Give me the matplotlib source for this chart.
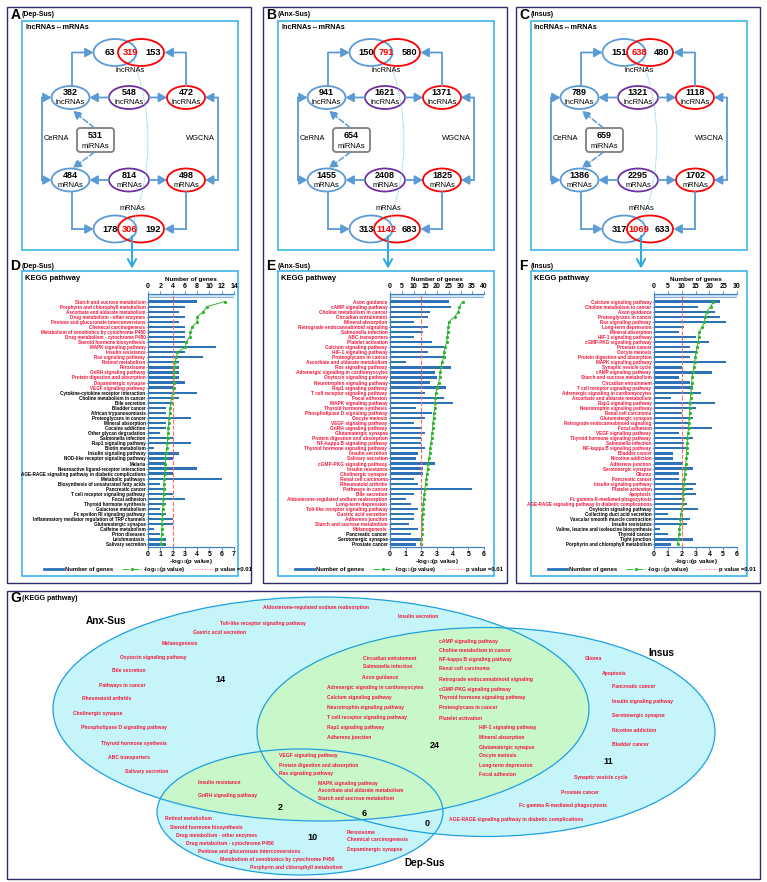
import matplotlib
matplotlib.use('Agg')
import matplotlib.pyplot as plt
from matplotlib.patches import Ellipse, Rectangle, FancyBboxPatch, FancyArrowPatch, PathPatch
from matplotlib.path import Path
from matplotlib.lines import Line2D
import numpy as np

plt.rcParams['font.family'] = ['Liberation Sans', 'DejaVu Sans']

# ---------------- DATA ----------------
panel_names = ['Dep-Sus', 'Anx-Sus', 'Insus']
top_lnc = [(63, 319, 153), (150, 791, 580), (151, 638, 480)]
lnc_row = [(382, 548, 472), (941, 1621, 1371), (789, 1321, 1118)]
mirnas = [531, 654, 659]
mrna_row = [(484, 814, 498), (1455, 2408, 1825), (1386, 2295, 1702)]
bottom_mrna = [(178, 306, 192), (313, 1142, 683), (317, 1069, 633)]

dep_path = ['Starch and sucrose metabolism', 'Porphyrin and chlorophyll metabolism',
            'Ascorbate and aldarate metabolism', 'Drug metabolism - other enzymes',
            'Pentose and glucuronate interconversions', 'Chemical carcinogenesis',
            'Metabolism of xenobiotics by cytochrome P450', 'Drug metabolism - cytochrome P450',
            'Steroid hormone biosynthesis', 'MAPK signaling pathway', 'Insulin resistance',
            'Ras signaling pathway', 'Retinol metabolism', 'Peroxisome', 'GnRH signaling pathway',
            'Protein digestion and absorption', 'Dopaminergic synapse', 'VEGF signaling pathway',
            'Cytokine-cytokine receptor interaction', 'Choline metabolism in cancer', 'Bile secretion',
            'Bladder cancer', 'African trypanosomiasis', 'Proteoglycans in cancer', 'Mineral absorption',
            'Cocaine addiction', 'Other glycan degradation', 'Salmonella infection',
            'Rap1 signaling pathway', 'Biotin metabolism', 'Insulin signaling pathway',
            'NOD-like receptor signaling pathway', 'Malaria', 'Neuroactive ligand-receptor interaction',
            'AGE-RAGE signaling pathway in diabetic complications', 'Metabolic pathways',
            'Biosynthesis of unsaturated fatty acids', 'Pancreatic cancer',
            'T cell receptor signaling pathway', 'Focal adhesion', 'Thyroid hormone synthesis',
            'Galactose metabolism', 'Fc epsilon RI signaling pathway',
            'Inflammatory mediator regulation of TRP channels', 'Glutamatergic synapse',
            'Caffeine metabolism', 'Prion diseases', 'Leishmaniasis', 'Salivary secretion']
dep_genes = [8, 6, 5, 6, 5, 6, 6, 6, 6, 11, 6, 9, 5, 5, 5, 5, 6, 4, 8, 5, 4, 3, 3, 7, 3,
             3, 2, 4, 7, 1, 5, 4, 3, 8, 4, 12, 2, 3, 4, 6, 3, 2, 3, 4, 4, 1, 2, 3, 3]
dep_logp = [6.23, 4.8, 4.5, 4.0, 4.0, 3.6, 3.45, 3.4, 3.1, 3.05, 2.4, 2.3, 2.2, 2.17, 2.14,
            2.12, 2.1, 2.08, 2.03, 1.93, 1.85, 1.8, 1.77, 1.7, 1.68, 1.65, 1.62, 1.6, 1.57,
            1.55, 1.45, 1.42, 1.4, 1.38, 1.35, 1.33, 1.3, 1.3, 1.28, 1.26, 1.24, 1.2, 1.18,
            1.16, 1.14, 1.12, 1.1, 1.08, 1.05]

anx_path = ['Axon guidance', 'cAMP signaling pathway', 'Choline metabolism in cancer',
            'Circadian entrainment', 'Mineral absorption', 'Retrograde endocannabinoid signaling',
            'Salmonella infection', 'ABC transporters', 'Platelet activation',
            'Calcium signaling pathway', 'HIF-1 signaling pathway', 'Proteoglycans in cancer',
            'Ascorbate and aldarate metabolism', 'Ras signaling pathway',
            'Adrenergic signaling in cardiomyocytes', 'Oxytocin signaling pathway',
            'Neurotrophin signaling pathway', 'Rap1 signaling pathway',
            'T cell receptor signaling pathway', 'Focal adhesion', 'MAPK signaling pathway',
            'Thyroid hormone synthesis', 'Phospholipase D signaling pathway', 'Oocyte meiosis',
            'VEGF signaling pathway', 'GnRH signaling pathway', 'Glutamatergic synapse',
            'Protein digestion and absorption', 'NF-kappa B signaling pathway',
            'Thyroid hormone signaling pathway', 'Insulin secretion', 'Salivary secretion',
            'cGMP-PKG signaling pathway', 'Insulin resistance', 'Cholinergic synapse',
            'Renal cell carcinoma', 'Rheumatoid arthritis', 'Pathways in cancer', 'Bile secretion',
            'Aldosterone-regulated sodium reabsorption', 'Long-term depression',
            'Toll-like receptor signaling pathway', 'Gastric acid secretion', 'Adherens junction',
            'Starch and sucrose metabolism', 'Melanogenesis', 'Pancreatic cancer',
            'Serotonergic synapse', 'Prostate cancer']
anx_genes = [25, 26, 17, 16, 10, 16, 14, 10, 18, 23, 16, 24, 7, 26, 19, 20, 17, 24, 15, 23,
             27, 11, 18, 15, 10, 13, 15, 13, 13, 15, 12, 11, 19, 14, 14, 10, 12, 35, 10, 7,
             9, 12, 10, 10, 8, 12, 9, 14, 11]
anx_logp = [4.65, 4.43, 4.37, 4.13, 3.75, 3.72, 3.68, 3.65, 3.62, 3.51, 3.47, 3.43, 3.32,
            3.25, 3.2, 3.17, 3.1, 3.0, 2.93, 2.9, 2.88, 2.86, 2.82, 2.78, 2.74, 2.72, 2.68,
            2.65, 2.62, 2.57, 2.53, 2.48, 2.44, 2.4, 2.36, 2.32, 2.27, 2.23, 2.2, 2.15, 2.12,
            2.1, 2.08, 2.06, 2.04, 2.03, 2.02, 2.0, 1.95]

ins_path = ['Calcium signaling pathway', 'Choline metabolism in cancer', 'Axon guidance',
            'Proteoglycans in cancer', 'Ras signaling pathway', 'Long-term depression',
            'Mineral absorption', 'HIF-1 signaling pathway', 'cGMP-PKG signaling pathway',
            'Prostate cancer', 'Oocyte meiosis', 'Protein digestion and absorption',
            'MAPK signaling pathway', 'Synaptic vesicle cycle', 'cAMP signaling pathway',
            'Starch and sucrose metabolism', 'Circadian entrainment',
            'T cell receptor signaling pathway', 'Adrenergic signaling in cardiomyocytes',
            'Ascorbate and aldarate metabolism', 'Rap1 signaling pathway',
            'Neurotrophin signaling pathway', 'Renal cell carcinoma', 'Glutamatergic synapse',
            'Retrograde endocannabinoid signaling', 'Focal adhesion', 'VEGF signaling pathway',
            'Thyroid hormone signaling pathway', 'Salmonella infection',
            'NF-kappa B signaling pathway', 'Bladder cancer', 'Nicotine addiction',
            'Adherens junction', 'Serotonergic synapse', 'Glioma', 'Pancreatic cancer',
            'Insulin signaling pathway', 'Platelet activation', 'Apoptosis',
            'Fc gamma R-mediated phagocytosis',
            'AGE-RAGE signaling pathway in diabetic complications', 'Oxytocin signaling pathway',
            'Collecting duct acid secretion', 'Vascular smooth muscle contraction',
            'Insulin resistance', 'Valine, leucine and isoleucine biosynthesis', 'Thyroid cancer',
            'Tight junction', 'Porphyrin and chlorophyll metabolism']
ins_genes = [24, 16, 22, 24, 26, 11, 9, 15, 20, 13, 15, 13, 26, 10, 21, 9, 13, 14, 17, 6,
             22, 15, 10, 14, 13, 21, 9, 14, 11, 12, 7, 7, 10, 14, 9, 9, 15, 14, 15, 11, 12,
             16, 5, 13, 12, 2, 5, 14, 6]
ins_logp = [4.3, 4.1, 3.8, 3.7, 3.63, 3.5, 3.27, 3.22, 3.2, 3.12, 3.05, 2.98, 2.93, 2.88,
            2.81, 2.76, 2.73, 2.71, 2.66, 2.64, 2.61, 2.6, 2.57, 2.55, 2.52, 2.5, 2.45, 2.42,
            2.4, 2.37, 2.35, 2.33, 2.3, 2.25, 2.23, 2.2, 2.18, 2.15, 2.13, 2.1, 2.08, 2.0,
            1.94, 1.91, 1.89, 1.84, 1.82, 1.77, 1.7]

# Venn regions (panel G)
venn_anx_only = ['Aldosterone-regulated sodium reabsorption', 'Insulin secretion',
                 'Toll-like receptor signaling pathway', 'Gastric acid secretion', 'Melanogenesis',
                 'Oxytocin signaling pathway', 'Bile secretion', 'Pathways in cancer',
                 'Rheumatoid arthritis', 'Cholinergic synapse', 'Phospholipase D signaling pathway',
                 'Thyroid hormone synthesis', 'ABC transporters', 'Salivary secretion']
venn_anx_ins = ['Circadian entrainment', 'Salmonella infection', 'Axon guidance',
                'Adrenergic signaling in cardiomyocytes', 'Calcium signaling pathway',
                'Neurotrophin signaling pathway', 'T cell receptor signaling pathway',
                'Rap1 signaling pathway', 'Adherens junction', 'cAMP signaling pathway',
                'Choline metabolism in cancer', 'NF-kappa B signaling pathway', 'Renal cell carcinoma',
                'Retrograde endocannabinoid signaling', 'cGMP-PKG signaling pathway',
                'Thyroid hormone signaling pathway', 'Proteoglycans in cancer', 'Platelet activation',
                'HIF-1 signaling pathway', 'Mineral absorption', 'Glutamatergic synapse',
                'Oocyte meiosis', 'Long-term depression', 'Focal adhesion']
venn_all = ['VEGF signaling pathway', 'Protein digestion and absorption', 'Ras signaling pathway',
            'MAPK signaling pathway', 'Ascorbate and aldarate metabolism',
            'Starch and sucrose metabolism']
venn_anx_dep = ['Insulin resistance', 'GnRH signaling pathway']
venn_dep_only = ['Retinol metabolism', 'Steroid hormone biosynthesis',
                 'Drug metabolism - other enzymes', 'Drug metabolism - cytochrome P450',
                 'Pentose and glucuronate interconversions',
                 'Metabolism of xenobiotics by cytochrome P450', 'Porphyrin and chlorophyll metabolism',
                 'Peroxisome', 'Chemical carcinogenesis', 'Dopaminergic synapse']
venn_ins_only = ['Glioma', 'Apoptosis', 'Pancreatic cancer', 'Insulin signaling pathway',
                 'Serotonergic synapse', 'Nicotine addiction', 'Bladder cancer',
                 'Synaptic vesicle cycle', 'Prostate cancer', 'Fc gamma R-mediated phagocytosis',
                 'AGE-RAGE signaling pathway in diabetic complications']
venn_dep_ins = []

# ---------------- LAYOUT ----------------
pos_anx_only = [(263, 608), (398, 616), (220, 623), (193, 633), (162, 644), (120, 657),
                (112, 671), (99, 685), (82, 699), (73, 714), (81, 728), (101, 744), (108, 758),
                (125, 771)]
pos_anx_ins = [(363, 658), (363, 667), (362, 678), (327, 688), (327, 697), (327, 708),
               (327, 718), (327, 728), (327, 738), (439, 642), (439, 651), (439, 660),
               (439, 669), (439, 679), (439, 689), (439, 698), (439, 708), (439, 718),
               (479, 728), (479, 738), (479, 747), (479, 756), (479, 765), (479, 774)]
pos_all = [(279, 756), (279, 765), (279, 774), (318, 783), (318, 791), (318, 799)]
pos_anx_dep = [(198, 783), (198, 795)]
pos_dep_only = [(165, 818), (170, 827), (176, 835), (186, 843), (198, 851), (220, 859),
                (250, 867), (347, 832), (347, 840), (347, 849)]
pos_ins_only = [(585, 659), (602, 673), (612, 686), (612, 702), (612, 716), (612, 731),
                (612, 745), (574, 777), (561, 792), (519, 805), (449, 819)]

W, H = 767, 882
fig = plt.figure(figsize=(W / 100, H / 100), dpi=100)
cv = fig.add_axes([0, 0, 1, 1])
cv.set_xlim(0, W)
cv.set_ylim(H, 0)
cv.axis('off')

NAVY = '#2b2d6e'
CYB = '#3cb4e6'
LB = '#5b9bd5'
RED = '#ff0000'
PUR = '#7030a0'
TRED = '#f0183c'


def T(x, y, s, size=5, weight='normal', color='black', ha='center', va='center', **kw):
    cv.text(x, y, s, fontsize=size, fontweight=weight, color=color, ha=ha, va=va, **kw)


def rect(x0, y0, x1, y1, ec, lw):
    cv.add_patch(Rectangle((x0, y0), x1 - x0, y1 - y0, fc='none', ec=ec, lw=lw))


def arr(p0, p1, color=LB, lw=1.3, ls='-'):
    cv.add_patch(FancyArrowPatch(p0, p1, arrowstyle='-|>,head_length=0.8,head_width=0.45',
                                 mutation_scale=6, color=color, lw=lw, linestyle=ls,
                                 shrinkA=0, shrinkB=0))


def ell(cx, cy, w, h, ec, lw=1.3):
    cv.add_patch(Ellipse((cx, cy), w, h, fc='none', ec=ec, lw=lw))


# ---------------- outer frames ----------------
offsets = [0, 256, 509]
for ox in offsets:
    rect(ox + 7, 7, ox + 251, 583, NAVY, 1.0)
    rect(ox + 22, 21, ox + 238, 250, CYB, 1.2)
    rect(ox + 22, 271, ox + 238, 576, CYB, 1.2)
rect(7, 591, 760, 879, NAVY, 1.0)

letters_top = ['A', 'B', 'C']
letters_bot = ['D', 'E', 'F']

for i, ox in enumerate(offsets):
    T(ox + 10.5, 15, letters_top[i], size=10, weight='bold', ha='left')
    T(ox + 22, 15, '(' + panel_names[i] + ')', size=5, weight='bold', ha='left')
    T(ox + 10.5, 266, letters_bot[i], size=10, weight='bold', ha='left')
    T(ox + 22, 266, '(' + panel_names[i] + ')', size=5, weight='bold', ha='left')
    T(ox + 25, 27.5, 'lncRNAs\u2194mRNAs', size=5.2, weight='bold', ha='left')
    T(ox + 25, 279, 'KEGG pathway', size=5.5, weight='bold', ha='left')

    # ---- network ----
    t = top_lnc[i]
    ell(ox + 115, 52.5, 43, 27, LB)
    ell(ox + 141, 52.5, 46, 27, RED)
    T(ox + 110, 52.5, str(t[0]), size=6.7, weight='bold')
    T(ox + 130, 52.5, str(t[1]), size=6.7, weight='bold', color=RED)
    T(ox + 153, 52.5, str(t[2]), size=6.7, weight='bold')
    T(ox + 130, 71, 'lncRNAs', size=5.4)

    for yy, vals, lab in [(97.5, lnc_row[i], 'lncRNAs'), (180, mrna_row[i], 'mRNAs')]:
        for cx, col, v, w in zip([70.5, 129, 186], [LB, PUR, RED], vals, [38, 40, 38]):
            ell(ox + cx, yy, w, 23, col)
            T(ox + cx, yy - 5, str(v), size=6.5, weight='bold')
            T(ox + cx, yy + 5.5, lab, size=5.4)
        arr((ox + 109, yy), (ox + 89.5, yy))
        arr((ox + 149, yy), (ox + 167, yy))
        arr((ox + 42, yy), (ox + 51.5, yy))
        arr((ox + 218, yy), (ox + 205, yy))
    cv.plot([ox + 42, ox + 42], [97.5, 180], color=LB, lw=1.3)
    cv.plot([ox + 218, ox + 218], [97.5, 180], color=LB, lw=1.3)
    T(ox + 56, 139, 'CeRNA', size=5.4)
    T(ox + 200, 139, 'WGCNA', size=5.4)

    # elbows
    cv.plot([ox + 72, ox + 72], [86, 52.5], color=LB, lw=1.3)
    arr((ox + 72, 52.5), (ox + 93.5, 52.5))
    cv.plot([ox + 186, ox + 186], [86, 52.5], color=LB, lw=1.3)
    arr((ox + 186, 52.5), (ox + 164.5, 52.5))
    cv.plot([ox + 72, ox + 72], [191.5, 229], color=LB, lw=1.3)
    arr((ox + 72, 229), (ox + 93.5, 229))
    cv.plot([ox + 186, ox + 186], [191.5, 229], color=LB, lw=1.3)
    arr((ox + 186, 229), (ox + 164.5, 229))

    # miRNA box
    cv.add_patch(FancyBboxPatch((ox + 77, 128), 37, 24,
                                boxstyle='round,pad=0,rounding_size=3',
                                fc='white', ec='#7f7f7f', lw=1.3))
    T(ox + 95.5, 135, str(mirnas[i]), size=6.5, weight='bold')
    T(ox + 95.5, 146, 'miRNAs', size=5.4)
    arr((ox + 94, 127.5), (ox + 73, 111), ls='--', lw=1.1)
    arr((ox + 94, 152.5), (ox + 73, 168), ls='--', lw=1.1)

    # bottom venn
    b = bottom_mrna[i]
    T(ox + 132, 208, 'mRNAs', size=5.4)
    ell(ox + 115, 229, 43, 27, LB)
    ell(ox + 141, 229, 46, 27, RED)
    T(ox + 110, 229, str(b[0]), size=6.7, weight='bold')
    T(ox + 130, 229, str(b[1]), size=6.7, weight='bold', color=RED)
    T(ox + 153, 229, str(b[2]), size=6.7, weight='bold')

    # dotted link
    pth = Path([(ox + 133, 58), (ox + 163, 141), (ox + 133, 224)],
               [Path.MOVETO, Path.CURVE3, Path.CURVE3])
    cv.add_patch(PathPatch(pth, fc='none', ec='#7cc6f0', lw=0.7, ls=(0, (1.2, 1.0))))
    # down arrow to KEGG panel
    cv.add_patch(FancyArrowPatch((ox + 132, 236), (ox + 132, 268.5),
                                 arrowstyle='->,head_length=0.9,head_width=0.5',
                                 mutation_scale=6, color='#2aa9e3', lw=1.4,
                                 shrinkA=0, shrinkB=0))

# ---------------- KEGG charts ----------------
BAR = '#2e72b8'
SP = '#3f7fc4'
GRN = '#2fb52f'
redsets = [set(venn_dep_only + venn_anx_dep + venn_all + venn_dep_ins),
           set(venn_anx_only + venn_anx_ins + venn_all + venn_anx_dep),
           set(venn_ins_only + venn_anx_ins + venn_all + venn_dep_ins)]
charts = [
    (dep_path, dep_genes, dep_logp, 14, 2, 7, 148, 234, 148, 3.3),
    (anx_path, anx_genes, anx_logp, 40, 5, 6, 390, 484, 399, 3.45),
    (ins_path, ins_genes, ins_logp, 30, 5, 6, 654, 737, 652, 3.3),
]
for k, (names, genes, logp, gmax, gstep, pmax, x0, x1, lcx, fs) in enumerate(charts):
    y0, y1 = 294, 547
    ax = fig.add_axes([x0 / W, 1 - y1 / H, (x1 - x0) / W, (y1 - y0) / H])
    ax.patch.set_alpha(0)
    ax2 = ax.twiny()
    yy = np.arange(len(names))

    # top axis: number of genes (bars)
    ax.axhspan(-1.5, -0.85, fc='#d3e6f7', ec=SP, lw=0.4)
    ax.barh(yy, genes, height=0.45, color=BAR)
    ax.set_xlim(0, gmax)
    ax.xaxis.tick_top()
    ax.xaxis.set_label_position('top')
    ax.set_xticks(np.arange(0, gmax + 1, gstep))
    ax.set_yticks(yy)
    ax.set_yticklabels(names, fontsize=fs, fontweight='bold')
    for lab, n in zip(ax.get_yticklabels(), names):
        lab.set_color(TRED if n in redsets[k] else 'black')
    for lab in ax.get_xticklabels():
        lab.set_fontweight('bold')
    ax.set_xlabel('Number of genes', fontsize=4.6, fontweight='bold', labelpad=1.5)
    ax.tick_params(axis='x', which='both', top=True, bottom=False, labeltop=True,
                   labelbottom=False, labelsize=5, length=2, width=0.6, pad=0.8, color=SP)
    ax.tick_params(axis='y', length=1.2, width=0.4, pad=0.6, color=SP)

    # bottom axis: -log10 p
    l1, = ax2.plot(logp, yy, '-o', color=GRN, ms=1.3, lw=0.7)
    l2 = ax2.axvline(2, color='#ff6a6a', ls='--', lw=0.8)
    ax2.set_xlim(0, pmax)
    ax2.xaxis.tick_bottom()
    ax2.xaxis.set_label_position('bottom')
    ax2.set_xticks(np.arange(0, pmax + 1, 1))
    for lab in ax2.get_xticklabels():
        lab.set_fontweight('bold')
    ax2.tick_params(axis='x', which='both', top=False, bottom=True, labeltop=False,
                    labelbottom=True, labelsize=5, length=2, width=0.6, pad=0.6, color=SP)
    ax2.set_xlabel(r'-log$_{10}$(p value)', fontsize=4.4, fontweight='bold', labelpad=-0.5)
    ax.set_ylim(len(names) - 0.5, -1.5)
    ax2.set_ylim(len(names) - 0.5, -1.5)
    for a in (ax, ax2):
        a.spines['right'].set_visible(False)
        for s in ('left', 'top', 'bottom'):
            a.spines[s].set_color(SP)
            a.spines[s].set_linewidth(0.8)
    h_bar = Line2D([], [], color=BAR, lw=2)
    h_g = Line2D([], [], color=GRN, lw=0.7, ls='-.', marker='o', ms=1.3)
    h_r = Line2D([], [], color='#ff6a6a', lw=0.7, ls=':')
    ax2.legend([h_bar, h_g, h_r], ['Number of genes', r'-log$_{10}$(p value)', 'p value =0.01'],
               loc='center', bbox_to_anchor=(lcx / W, 1 - 569.5 / H),
               bbox_transform=fig.transFigure, ncol=3, frameon=False,
               prop={'size': 4.2, 'weight': 'bold'}, handlelength=3.2, handletextpad=0.3,
               columnspacing=1.6, borderaxespad=0)

# ---------------- Venn (G) ----------------
T(10.5, 598, 'G', size=10, weight='bold', ha='left')
T(22, 598, '(KEGG pathway)', size=5, weight='bold', ha='left')

CYF = '#c5f5f8'
GRF = '#c8f7c9'
EC = '#1f9fe0'
e_anx = dict(xy=(321, 709), width=536, height=224)
e_ins = dict(xy=(486, 732), width=458, height=209)
e_dep = dict(xy=(300, 812), width=286, height=126)
pa = Ellipse(**e_anx, fc=CYF, ec='none')
cv.add_patch(pa)
cv.add_patch(Ellipse(**e_ins, fc=CYF, ec='none'))
cv.add_patch(Ellipse(**e_dep, fc=CYF, ec='none'))
g1 = Ellipse(**e_ins, fc=GRF, ec='none')
cv.add_patch(g1)
g1.set_clip_path(pa)
g2 = Ellipse(**e_dep, fc=GRF, ec='none')
cv.add_patch(g2)
g2.set_clip_path(pa)
for e in (e_anx, e_ins, e_dep):
    cv.add_patch(Ellipse(**e, fc='none', ec=EC, lw=0.9))

for names, poss in [(venn_anx_only, pos_anx_only), (venn_anx_ins, pos_anx_ins),
                    (venn_all, pos_all), (venn_anx_dep, pos_anx_dep),
                    (venn_dep_only, pos_dep_only), (venn_ins_only, pos_ins_only)]:
    for n, (x, y) in zip(names, poss):
        T(x, y, n, size=3.6, weight='bold', color=TRED, ha='left')

for names, (x, y) in [(venn_anx_only, (220, 679)), (venn_anx_ins, (435, 745)),
                      (venn_ins_only, (608, 762)), (venn_anx_dep, (280, 807)),
                      (venn_all, (364, 813)), (venn_dep_only, (312, 838)),
                      (venn_dep_ins, (427, 824))]:
    T(x, y, str(len(names)), size=6.5, weight='bold')

T(106, 621, 'Anx-Sus', size=7.2, weight='bold')
T(661, 653, 'Insus', size=7.2, weight='bold')
T(425, 863, 'Dep-Sus', size=7.2, weight='bold')

fig.savefig('out.png', dpi=100)
